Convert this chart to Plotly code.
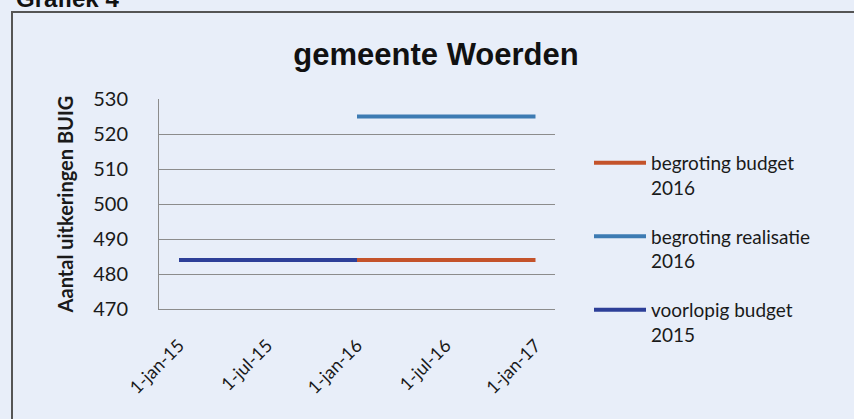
import plotly.graph_objects as go

# ---- data ----
tick_dates = ["2015-01-01", "2015-07-01", "2016-01-01", "2016-07-01", "2017-01-01"]
tick_labels = ["1-jan-15", "1-jul-15", "1-jan-16", "1-jul-16", "1-jan-17"]

budget_2016_dates = ["2016-01-01", "2017-01-01"]
budget_2016_values = [484, 484]

realisatie_2016_dates = ["2016-01-01", "2017-01-01"]
realisatie_2016_values = [525, 525]

voorlopig_2015_dates = ["2015-01-01", "2016-01-01"]
voorlopig_2015_values = [484, 484]

y_ticks = [470, 480, 490, 500, 510, 520, 530]

BG = "#e8eef9"
GRID = "#8c8c8c"
FONT = "Lato"

fig = go.Figure()
fig.add_trace(go.Scatter(x=voorlopig_2015_dates, y=voorlopig_2015_values, mode="lines",
                         name="voorlopig budget<br>2015", line=dict(color="#2d3f98", width=4),
                         legendrank=3, legendgroup="c"))
fig.add_trace(go.Scatter(x=budget_2016_dates, y=budget_2016_values, mode="lines",
                         name="begroting budget<br>2016", line=dict(color="#c4532b", width=4),
                         legendrank=1, legendgroup="a"))
fig.add_trace(go.Scatter(x=realisatie_2016_dates, y=realisatie_2016_values, mode="lines",
                         name="begroting realisatie<br>2016", line=dict(color="#3d7bb3", width=4),
                         legendrank=2, legendgroup="b"))

W, H = 854, 419
L, R, T, B = 159, 555, 99, 309
pw, ph = R - L, B - T

def px(x):
    return (x - L) / pw

def py(y):
    return (B - y) / ph

fig.update_layout(
    width=W, height=H,
    margin=dict(l=L, r=W - R, t=T, b=H - B),
    paper_bgcolor=BG, plot_bgcolor=BG,
    font=dict(family=FONT, color="#1a1a1a"),
    showlegend=True,
    legend=dict(x=px(589), y=py(144), xanchor="left", yanchor="top",
                font=dict(size=19, family=FONT), valign="top",
                tracegroupgap=21, itemwidth=52, bgcolor="rgba(0,0,0,0)"),
    title=dict(text="<b>gemeente Woerden</b>", x=436 / W, xanchor="center",
               y=1 - 54 / H, yanchor="middle",
               font=dict(family="Liberation Sans", size=31, color="#111")),
    xaxis=dict(type="date", range=["2014-11-21", "2017-02-10"],
               tickvals=tick_dates, ticktext=tick_labels, tickangle=-45,
               tickfont=dict(size=18, family=FONT), showgrid=False,
               ticks="", ticklabelstandoff=18, showline=True, linecolor=GRID),
    yaxis=dict(range=[470, 530], tickvals=y_ticks, showgrid=True, gridcolor=GRID,
               gridwidth=1, zeroline=False, showline=True, linecolor=GRID,
               tickfont=dict(size=20, family=FONT), ticks="", ticklabelstandoff=26,
               title=dict(text="<b>Aantal uitkeringen BUIG</b>", standoff=14,
                          font=dict(size=20, family=FONT))),
)

# outer frame around the chart (extends past right/bottom edges)
fig.add_shape(type="rect", xref="paper", yref="paper",
              x0=px(12), x1=px(870), y0=py(440), y1=py(12),
              line=dict(color="#555", width=2), fillcolor="rgba(0,0,0,0)", layer="below")

# caption above the frame, cut off by the top edge as in the reference
fig.add_annotation(text="<b>Grafiek 4</b>", xref="paper", yref="paper",
                   x=px(14), y=py(14), xanchor="left", yanchor="bottom",
                   showarrow=False, font=dict(family="Liberation Sans", size=24, color="#111"))

fig.write_html("out.html", config={"displayModeBar": False},
               post_script="document.body.style.margin='0';")
